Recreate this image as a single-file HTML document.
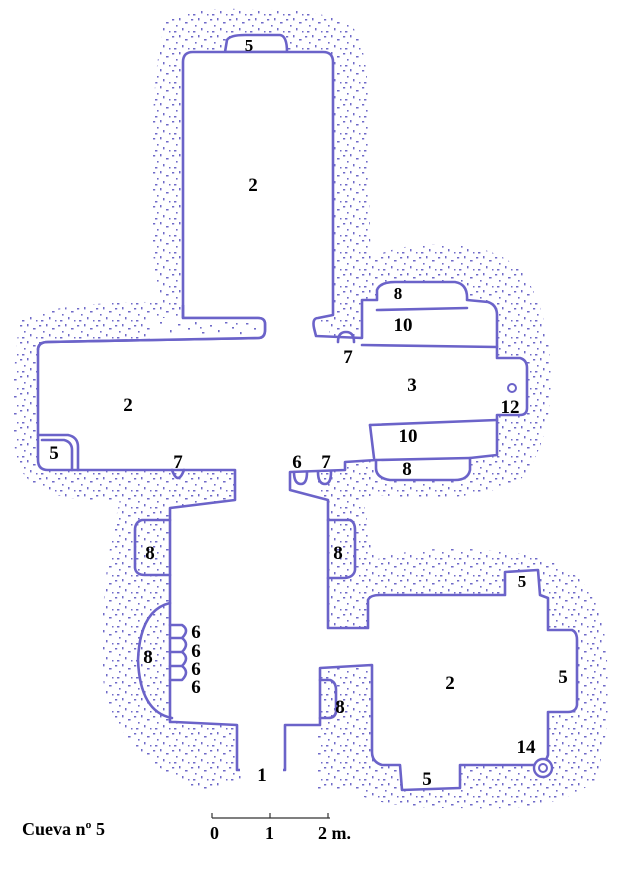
<!DOCTYPE html>
<html><head><meta charset="utf-8"><style>
html,body{margin:0;padding:0;background:#fff}
svg{display:block}
text{font-family:"Liberation Serif",serif;font-weight:bold;fill:#000}
</style></head><body>
<svg width="629" height="888" viewBox="0 0 629 888" xmlns="http://www.w3.org/2000/svg">
<defs>
<pattern id="st" width="19" height="17" patternUnits="userSpaceOnUse">
<g fill="#6f6ac8">
<rect x="1" y="2" width="2.2" height="1.5"/><rect x="8" y="1" width="1.5" height="2.4"/>
<rect x="14" y="5" width="2.6" height="1.5"/><rect x="5" y="8" width="1.6" height="1.6"/>
<rect x="11" y="11" width="1.5" height="2.4"/><rect x="3" y="14" width="2.4" height="1.5"/>
<rect x="17" y="14" width="1.5" height="1.5"/>
</g>
</pattern>
</defs>
<g fill="url(#st)">
<path d="M165 20 Q200 5 260 10 Q330 8 355 30 Q372 60 368 150 Q370 240 372 300 L340 320 L260 330 L175 330 Q150 300 152 200 Q150 80 165 20Z"/>
<path d="M20 320 Q60 300 180 302 L270 305 L272 470 L245 500 Q160 505 100 500 Q20 500 15 450 Q10 380 20 320Z"/>
<path d="M120 500 L245 495 L245 780 L200 790 Q130 760 105 700 Q95 600 120 500Z"/>
<path d="M340 290 Q360 250 420 245 Q490 240 520 270 Q545 300 550 360 Q555 440 520 480 Q470 505 380 495 L330 500 L290 495 L285 465 L320 455 L330 320Z"/>
<path d="M285 485 L360 485 L375 560 Q430 540 530 555 Q600 570 605 640 Q615 720 595 780 Q560 812 470 808 Q380 810 350 790 L290 790 L283 725 L320 720 L320 665 L368 660 L368 640 L328 640Z"/>
</g>
<rect x="266" y="300" width="52" height="510" fill="#fff"/>
<path d="M183 62 Q183 52 193 52 L323 52 Q333 52 333 62 L333 318 L266 318 L183 318Z" fill="#fff"/>
<g fill="#fff" stroke="#6b63c9" stroke-width="2.6" stroke-linejoin="round" stroke-linecap="round">
<path d="M225 52 L227 40 Q230 35 245 35 L280 35 Q287 36 287 52Z"/>
<path d="M193 52 L323 52 Q333 52 333 62 L333 315 L318 318 Q312 318 314 328 L316 336 L362 338 L362 300 L377 300 L377 290 Q380 282 395 282 L455 282 Q468 284 467 300 L488 302 Q497 305 497 315 L497 358 L520 358 Q527 360 527 368 L527 408 Q527 415 520 415 L497 415 L497 455 L470 458 L470 470 Q468 480 455 480 L390 480 Q376 478 376 468 L376 460 L345 462 L345 470 L290 472 L290 490 L328 500 L328 628 L368 628 L368 600 Q370 595 380 595 L505 595 L505 572 L538 570 L540 595 L548 598 L548 630 L572 630 Q577 632 577 640 L577 705 Q576 712 568 712 L548 712 L548 755 Q545 765 535 765 L460 765 L460 788 L402 790 L400 765 L382 765 Q372 762 372 752 L372 665 L320 668 L320 725 L285 725 L285 770 L237 770 L237 725 L175 722 L170 722 L170 508 L235 500 L235 470 L48 470 Q38 470 38 460 L38 350 Q38 342 48 342 L258 338 Q265 338 265 330 L265 324 Q265 318 258 318 L183 318 L183 62 Q183 52 193 52Z"/>
</g>
<path d="M183 318 L258 318 Q265 318 265 324 L265 330 Q265 338 258 338 L150 340 L150 318Z" fill="#fff"/>
<g fill="#6f6ac8">
<rect x="160" y="322" width="2" height="1.6"/><rect x="170" y="330" width="1.6" height="2.4"/><rect x="178" y="324" width="2.4" height="1.5"/>
<rect x="188" y="328" width="2" height="1.6"/><rect x="195" y="322" width="1.6" height="2.4"/><rect x="202" y="332" width="2.4" height="1.5"/>
<rect x="210" y="325" width="2" height="1.6"/><rect x="218" y="330" width="1.6" height="2.2"/><rect x="225" y="322" width="2.4" height="1.5"/>
<rect x="232" y="327" width="2" height="1.6"/><rect x="240" y="332" width="1.6" height="2.2"/><rect x="246" y="323" width="2.4" height="1.5"/>
<rect x="254" y="328" width="2" height="1.6"/><rect x="200" y="327" width="1.6" height="1.6"/><rect x="236" y="323" width="1.6" height="1.6"/>
</g>
<path d="M183 305 L183 318 L258 318 Q265 318 265 324 L265 330 Q265 338 258 338 L48 342 Q38 342 38 350" fill="none" stroke="#6b63c9" stroke-width="2.6" stroke-linejoin="round"/>
<rect x="240" y="764" width="43" height="12" fill="#fff"/>
<g fill="none" stroke="#6b63c9" stroke-width="2.6" stroke-linecap="round" stroke-linejoin="round">
<path d="M362 345 L497 347"/>
<path d="M377 310 L467 308"/>
<path d="M370 425 L497 420"/>
<path d="M370 425 L374 458"/>
<path d="M376 460 L470 458"/>
<path d="M38 435 L68 435 Q78 437 78 447 L78 470"/>
<path d="M42 440 L64 440 Q72 442 72 450 L72 470"/>
<path d="M170 520 L142 520 Q135 522 135 530 L135 568 Q136 575 145 575 L170 575"/>
<path d="M170 603 Q140 610 138 660 Q140 712 172 718"/>
<path d="M170 625 L182 625 Q190 630 182 638 L170 638 M170 638 L182 638 Q190 644 182 652 L170 652 M170 652 L182 652 Q190 658 182 666 L170 666 M170 666 L182 666 Q190 672 182 680 L170 680"/>
<path d="M328 520 L350 520 Q355 522 355 530 L355 570 Q354 577 345 578 L328 578"/>
<path d="M320 680 L330 680 Q336 682 336 690 L336 712 Q335 718 328 718 L320 718"/>
<path d="M172 470 Q178 486 184 470"/>
<path d="M294 472 Q294 484 301 484 Q307 484 307 472"/>
<path d="M318 472 Q318 484 325 484 Q331 484 331 472"/>
<path d="M338 342 Q338 332 346 332 Q354 332 354 342"/>
</g>
<circle cx="512" cy="388" r="4" fill="none" stroke="#6b63c9" stroke-width="2"/>
<circle cx="543" cy="768" r="9" fill="#fff" stroke="#6b63c9" stroke-width="2.4"/>
<circle cx="543" cy="768" r="4" fill="none" stroke="#6b63c9" stroke-width="2"/>
<g font-size="19">
<text x="249" y="51" text-anchor="middle" font-size="17">5</text>
<text x="253" y="191" text-anchor="middle">2</text>
<text x="398" y="299" text-anchor="middle" font-size="17">8</text>
<text x="403" y="331" text-anchor="middle">10</text>
<text x="348" y="363" text-anchor="middle">7</text>
<text x="412" y="391" text-anchor="middle">3</text>
<text x="510" y="413" text-anchor="middle">12</text>
<text x="408" y="442" text-anchor="middle">10</text>
<text x="407" y="475" text-anchor="middle">8</text>
<text x="128" y="411" text-anchor="middle">2</text>
<text x="54" y="459" text-anchor="middle">5</text>
<text x="178" y="468" text-anchor="middle">7</text>
<text x="297" y="468" text-anchor="middle">6</text>
<text x="326" y="468" text-anchor="middle">7</text>
<text x="150" y="559" text-anchor="middle">8</text>
<text x="338" y="559" text-anchor="middle">8</text>
<text x="148" y="663" text-anchor="middle">8</text>
<text x="196" y="638" text-anchor="middle">6</text>
<text x="196" y="657" text-anchor="middle">6</text>
<text x="196" y="675" text-anchor="middle">6</text>
<text x="196" y="693" text-anchor="middle">6</text>
<text x="340" y="713" text-anchor="middle">8</text>
<text x="522" y="587" text-anchor="middle" font-size="17">5</text>
<text x="450" y="689" text-anchor="middle">2</text>
<text x="563" y="683" text-anchor="middle">5</text>
<text x="526" y="753" text-anchor="middle">14</text>
<text x="427" y="785" text-anchor="middle">5</text>
<text x="262" y="781" text-anchor="middle">1</text>
<text x="22" y="835" font-size="18">Cueva nº 5</text>
<text x="210" y="839" font-size="18">0</text>
<text x="265" y="839" font-size="18">1</text>
<text x="318" y="839" font-size="18">2 m.</text>
</g>
<g stroke="#333" stroke-width="1.2">
<line x1="212" y1="818" x2="330" y2="818"/>
<line x1="212" y1="813" x2="212" y2="818"/>
<line x1="270" y1="813" x2="270" y2="818"/>
<line x1="328" y1="813" x2="328" y2="818"/>
</g>
</svg>
</body></html>
